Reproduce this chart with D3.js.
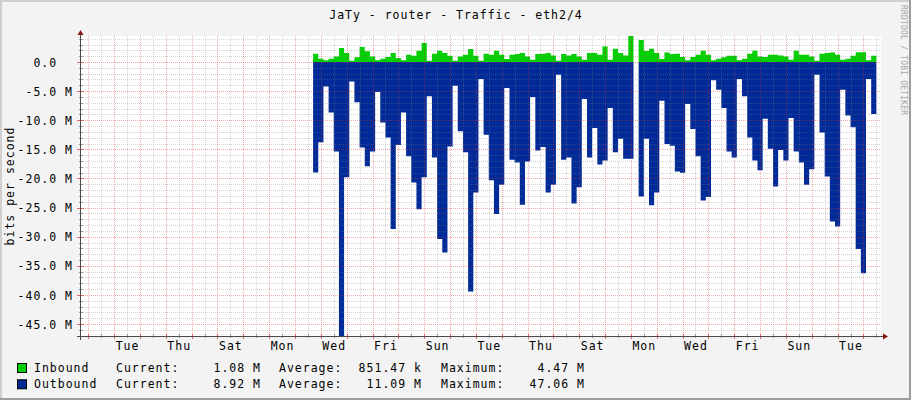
<!DOCTYPE html>
<html><head><meta charset="utf-8">
<script src="https://cdn.jsdelivr.net/npm/d3@7"></script>
<style>
html,body{margin:0;padding:0;background:#f3f3f3;}
svg{display:block;}
text{font-family:"DejaVu Sans Mono",monospace;font-size:11.5px;letter-spacing:1px;fill:#000;white-space:pre;}
</style></head><body>
<svg id="c" width="911" height="400"></svg>
<script>
// ---------- data ----------
const title = "JaTy - router - Traffic - eth2/4";
const yAxisTitle = "bits per second";
const watermark = "RRDTOOL / TOBI OETIKER";
// time is in days; day 0 = a Monday midnight
const viewStartDay = -0.2825;
const viewEndDay = 30.68;
const dayLabels = ["Tue","Thu","Sat","Mon","Wed","Fri","Sun","Tue","Thu","Sat","Mon","Wed","Fri","Sun","Tue"];
const firstLabelDay = 1;      // Tuesday
const labelEveryDays = 2;
const dataStartDay = 8.7;
const stepDays = 0.2;
// values in Mbit/s, null = no data
const inbound = [
1.43,0.57,0.3,0.57,0.97,2.4,1.55,0.22,0.8,2.57,1.83,0.97,0.3,0.57,0.85,1.55,0.68,0.3,
1.25,1.08,1.94,3.26,0.2,1.43,1.94,1.55,1.08,0.2,0.97,1.25,2.23,1.08,0.2,1.43,1.25,1.94,
1.25,0.51,1.25,1.37,1.54,0.97,0.4,1.37,1.43,1.54,1.14,0.22,1.37,1.14,1.37,0.97,0.4,1.54,1.54,
1.25,2.68,0.4,2.28,1.54,1.14,4.47,
null,
3.8,1.9,2.28,1.54,0.51,1.65,1.37,1.43,0.85,0.3,
0.85,1.25,1.94,1.25,0.3,0.57,0.8,1.08,1.08,0.3,0.57,1.43,1.94,0.97,0.85,1.25,1.25,1.14,0.97,
0.4,1.94,1.25,1.25,0.97,0.22,1.43,1.54,1.65,1.25,0.4,0.57,1.08,1.7,1.7,0.3,1.08
];
const outbound = [
18.97,13.8,4.2,8.65,15.35,47.06,19.8,3.33,6.9,14.67,17.9,15.35,5.16,10.4,12.95,28.7,14.27,8.65,
16.2,20.7,25.3,19.8,5.9,16.4,30.4,32.7,14.5,4.07,11.9,15.5,39.4,22.4,2.92,12.5,20.3,26.1,
21.1,4.47,16.8,17.25,24.5,17.1,6.0,15.2,14.6,22.4,21.1,2.18,16.8,16.4,24.3,21.5,6.36,16.4,11.35,
17.6,16.9,7.9,15.5,13.2,16.6,16.6,
null,
23.1,13.2,24.6,22.4,6.65,14.1,14.4,18.8,19.0,7.2,
11.5,16.2,23.8,23.2,3.15,4.76,7.9,15.35,16.4,2.92,5.9,12.95,16.9,18.6,9.74,14.9,21.4,15.1,16.9,
9.6,15.35,17.25,21.1,18.4,2.18,12.1,19.65,27.4,28.25,4.76,9.2,11.2,32.1,36.3,2.92,8.92
];
const yTickValues = [0,-5,-10,-15,-20,-25,-30,-35,-40,-45];
const legendNames = ["Inbound","Outbound"];
const legendCurrent = ["1.08 M","8.92 M"];
const legendAverage = ["851.47 k","11.09 M"];
const legendMaximum = ["4.47 M","47.06 M"];

// ---------- styles / layout ----------
const COL_IN = "#00CF00", COL_OUT = "#002A97";
const W = 911, H = 400;
const P = {left:81, right:881, top:36, bottom:336};

const svg = d3.select("#c");
// background + shading frame
svg.append("rect").attr("width",W).attr("height",H).attr("fill","#f3f3f3");
svg.append("path").attr("d",`M0,0H${W}V2H2V${H}H0Z`).attr("fill","#cfcfcf");
svg.append("path").attr("d",`M${W},${H}H0V${H-2}H${W-2}V0H${W}Z`).attr("fill","#9c9c9c");
svg.append("rect").attr("x",P.left).attr("y",P.top).attr("width",P.right-P.left).attr("height",P.bottom-P.top).attr("fill","#fff");

const yMin = -d3.max(outbound.filter(v=>v!=null));
const yMax = d3.max(inbound.filter(v=>v!=null));
const x = d3.scaleLinear().domain([viewStartDay, viewEndDay]).range([P.left, P.right]);
const y = d3.scaleLinear().domain([yMin, yMax]).range([P.bottom, P.top]);

function stepPoints(vals, sign){
  const out = [];
  vals.forEach((v,i)=>{
    const t0 = dataStartDay + i*stepDays;
    if(v==null){ out.push(null); return; }
    out.push({t:t0, v:sign*v}, {t:t0+stepDays, v:sign*v});
  });
  return out;
}
const area = d3.area().defined(d=>d!=null).x(d=>x(d.t)).y0(y(0)).y1(d=>y(d.v));
svg.append("path").attr("d",area(stepPoints(outbound,-1))).attr("fill",COL_OUT);
svg.append("path").attr("d",area(stepPoints(inbound,1))).attr("fill",COL_IN);

// grid on top
const grid = svg.append("g").attr("shape-rendering","crispEdges");
const yLines = d3.range(Math.ceil(yMin), Math.floor(yMax)+1);
yLines.forEach(v=>{
  const major = v%5===0;
  grid.append("line").attr("x1",P.left).attr("x2",P.right).attr("y1",Math.round(y(v))+0.5).attr("y2",Math.round(y(v))+0.5)
    .attr("stroke", major?"rgba(222,48,48,0.42)":"rgba(128,128,128,0.33)").attr("stroke-dasharray","1,1");
  grid.append("line").attr("x1",P.left-(major?4:2)).attr("x2",P.left+(major?3:2)).attr("y1",Math.round(y(v))+0.5).attr("y2",Math.round(y(v))+0.5)
    .attr("stroke", major?"rgba(222,48,48,0.7)":"rgba(100,100,100,0.6)");
});
const xLines = d3.range(Math.ceil(viewStartDay*2)/2, viewEndDay, 0.5);
xLines.forEach(t=>{
  const major = Math.abs(t-Math.round(t))<1e-9;
  const xp = Math.round(x(t))+0.5;
  grid.append("line").attr("x1",xp).attr("x2",xp).attr("y1",P.top).attr("y2",P.bottom)
    .attr("stroke", major?"rgba(222,48,48,0.42)":"rgba(128,128,128,0.33)").attr("stroke-dasharray","1,1");
  grid.append("line").attr("x1",xp).attr("x2",xp).attr("y1",P.bottom-2).attr("y2",P.bottom+(major?3:2))
    .attr("stroke", major?"rgba(222,48,48,0.7)":"rgba(100,100,100,0.6)");
});

// axes lines + arrows
const ax = svg.append("g");
ax.append("line").attr("x1",P.left-4).attr("x2",P.right+3).attr("y1",P.bottom+0.5).attr("y2",P.bottom+0.5).attr("stroke","#4a4a4a");
ax.append("line").attr("x1",P.left-0.5).attr("x2",P.left-0.5).attr("y1",P.bottom+4).attr("y2",P.top-3).attr("stroke","#4a4a4a");
ax.append("path").attr("d",`M${P.right+2},${P.bottom-2.5}L${P.right+7},${P.bottom+0.5}L${P.right+2},${P.bottom+3.5}Z`).attr("fill","#8b1010");
ax.append("path").attr("d",`M${P.left-3.5},${P.top-1}L${P.left-0.5},${P.top-6}L${P.left+2.5},${P.top-1}Z`).attr("fill","#8b1010");

// x axis labels (d3 axis)
const xTickVals = dayLabels.map((_,i)=>firstLabelDay + i*labelEveryDays + 0.5);
const gx = svg.append("g").attr("transform",`translate(0,${P.bottom})`)
  .call(d3.axisBottom(x).tickValues(xTickVals).tickFormat((d,i)=>dayLabels[i]).tickSize(0));
gx.select(".domain").remove();
gx.selectAll("text").attr("y",14).attr("dy",null).attr("font-family",null).attr("font-size",null).attr("fill",null);

// y axis labels (d3 axis)
const gy = svg.append("g").attr("transform",`translate(${P.left},0)`)
  .call(d3.axisLeft(y).tickValues(yTickValues).tickFormat(v=> v===0 ? "0.0  " : `${v.toFixed(1)} M`).tickSize(0).tickPadding(8));
gy.select(".domain").remove();
gy.selectAll("text").attr("dy","0.36em").attr("font-family",null).attr("font-size",null).attr("fill",null);

// title
svg.append("text").attr("x",456).attr("y",19).attr("text-anchor","middle").text(title);
// y axis title
svg.append("text").attr("transform","translate(14,186) rotate(-90)").attr("text-anchor","middle").text(yAxisTitle);
// watermark
svg.append("text").attr("transform","translate(901,5) rotate(90)").style("font-size","8px").style("letter-spacing","0.2px").style("fill","#a8a8a8").text(watermark);

// legend
const legendColors = [COL_IN, COL_OUT];
legendNames.forEach((name,i)=>{
  const by = 372 + i*16.3;
  svg.append("rect").attr("x",17.5).attr("y",by-8.5).attr("width",9).attr("height",9).attr("fill",legendColors[i]).attr("stroke","#000");
  svg.append("text").attr("x",34).attr("y",by).text(name);
  svg.append("text").attr("x",116).attr("y",by).text("Current:");
  svg.append("text").attr("x",261).attr("y",by).attr("text-anchor","end").text(legendCurrent[i]);
  svg.append("text").attr("x",279).attr("y",by).text("Average:");
  svg.append("text").attr("x",422).attr("y",by).attr("text-anchor","end").text(legendAverage[i]);
  svg.append("text").attr("x",441).attr("y",by).text("Maximum:");
  svg.append("text").attr("x",585).attr("y",by).attr("text-anchor","end").text(legendMaximum[i]);
});
</script>
</body></html>
